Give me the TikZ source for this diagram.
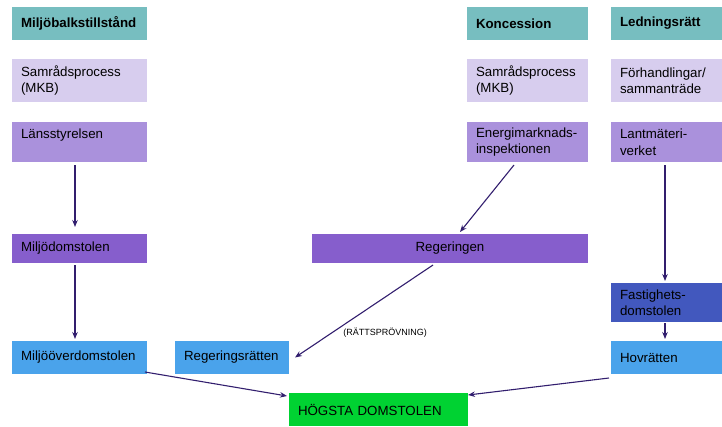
\documentclass[tikz,border=0pt]{standalone}
\usepackage{fontspec}
\setmainfont{Liberation Sans}
\usetikzlibrary{positioning, calc, arrows.meta}

\definecolor{headteal}{RGB}{119,190,192}
\definecolor{palelila}{RGB}{215,205,238}
\definecolor{midlila}{RGB}{170,145,220}
\definecolor{deeplila}{RGB}{134,94,204}
\definecolor{skyblue}{RGB}{74,163,235}
\definecolor{courtnavy}{RGB}{66,88,190}
\definecolor{topgreen}{RGB}{0,210,50}
\definecolor{arrowlila}{RGB}{50,30,110}

\newcommand{\diafont}{\fontsize{13.3}{16.5}\selectfont}

\tikzset{
  box/.style={inner xsep=9pt, inner ysep=0pt, outer sep=0pt, align=left, font=\diafont},
  lcol/.style={box, text width=117pt},
  mcol/.style={box, text width=103pt},
  rcol/.style={box, text width=93pt},
  flow/.style={->, draw=arrowlila, line width=1.1pt}
}

\begin{document}
\begin{tikzpicture}[x=1pt, y=-1pt, >={Stealth[length=7pt,width=5.5pt]}]
\useasboundingbox (0,0) rectangle (722,426);

% left column
\node (hmil) [lcol, fill=headteal, minimum height=33pt, font=\diafont\bfseries] at (79.5,23.5) {Miljöbalkstillstånd};
\node (samr1) [lcol, fill=palelila, minimum height=43pt] at (79.5,80.5) {Samrådsprocess\\(MKB)};
\node (lans) [lcol, fill=midlila, minimum height=40pt] at (79.5,142) {Länsstyrelsen\\~};
\node (mdom) [lcol, fill=deeplila, minimum height=29pt] at (79.5,248.5) {Miljödomstolen};
\node (mover) [lcol, fill=skyblue, minimum height=33pt] at (79.5,357.5) {Miljööverdomstolen};

% middle
\node (rrtt) [box, text width=96pt, fill=skyblue, minimum height=33pt] at (232,357.5) {Regeringsrätten};
\node (reg) [box, text width=258pt, align=center, fill=deeplila, minimum height=29pt] at (450,248.5) {Regeringen};
\node (hogsta) [box, text width=161pt, fill=topgreen, minimum height=33pt] at (378.5,409.5) {HÖGSTA DOMSTOLEN};

% concession column
\node (hkon) [mcol, fill=headteal, minimum height=33pt, font=\diafont\bfseries] at (527.5,23.5) {Koncession};
\node (samr2) [mcol, fill=palelila, minimum height=43pt] at (527.5,80.5) {Samrådsprocess\\(MKB)};
\node (energi) [mcol, fill=midlila, minimum height=40pt] at (527.5,142) {Energimarknads-\\inspektionen};

% ledningsratt column
\node (hled) [rcol, fill=headteal, minimum height=33pt, font=\diafont\bfseries] at (666.5,23.5) {Ledningsrätt};
\node (forh) [rcol, fill=palelila, minimum height=43pt] at (666.5,80.5) {Förhandlingar/\\sammanträde};
\node (lant) [rcol, fill=midlila, minimum height=40pt] at (666.5,142) {Lantmäteri-\\verket};
\node (fast) [rcol, fill=courtnavy, minimum height=39pt] at (666.5,302.5) {Fastighets-\\domstolen};
\node (hov) [rcol, fill=skyblue, minimum height=33pt] at (666.5,357.5) {Hovrätten};

\node (rattlbl) [font=\fontsize{9}{10}\selectfont] at (385,333) {(RÄTTSPRÖVNING)};

% arrows
\draw [flow] ($(lans.south)+(-4.5,3)$) -- ($(mdom.north)+(-4.5,-7)$);
\draw [flow] ($(mdom.south)+(-4.5,2)$) -- ($(mover.north)+(-4.5,-2)$);
\draw [flow] ($(energi.south)+(-13.5,3)$) -- ($(reg.north)+(10,-2)$);
\draw [flow] ($(reg.south)+(-17,2)$) -- ($(rrtt.east)+(6,0)$);
\draw [flow] ($(mover.south east)+(-2,-2)$) -- ($(hogsta.north west)+(-2,3)$);
\draw [flow] ($(hov.south west)+(-2,4)$) -- ($(hogsta.north east)+(0,2)$);
\draw [flow] ($(lant.south)+(-1.5,3)$) -- ($(fast.north)+(-1.5,-2)$);
\draw [flow] ($(fast.south)+(-1.5,1)$) -- ($(hov.north)+(-1.5,-2)$);
\end{tikzpicture}
\end{document}
